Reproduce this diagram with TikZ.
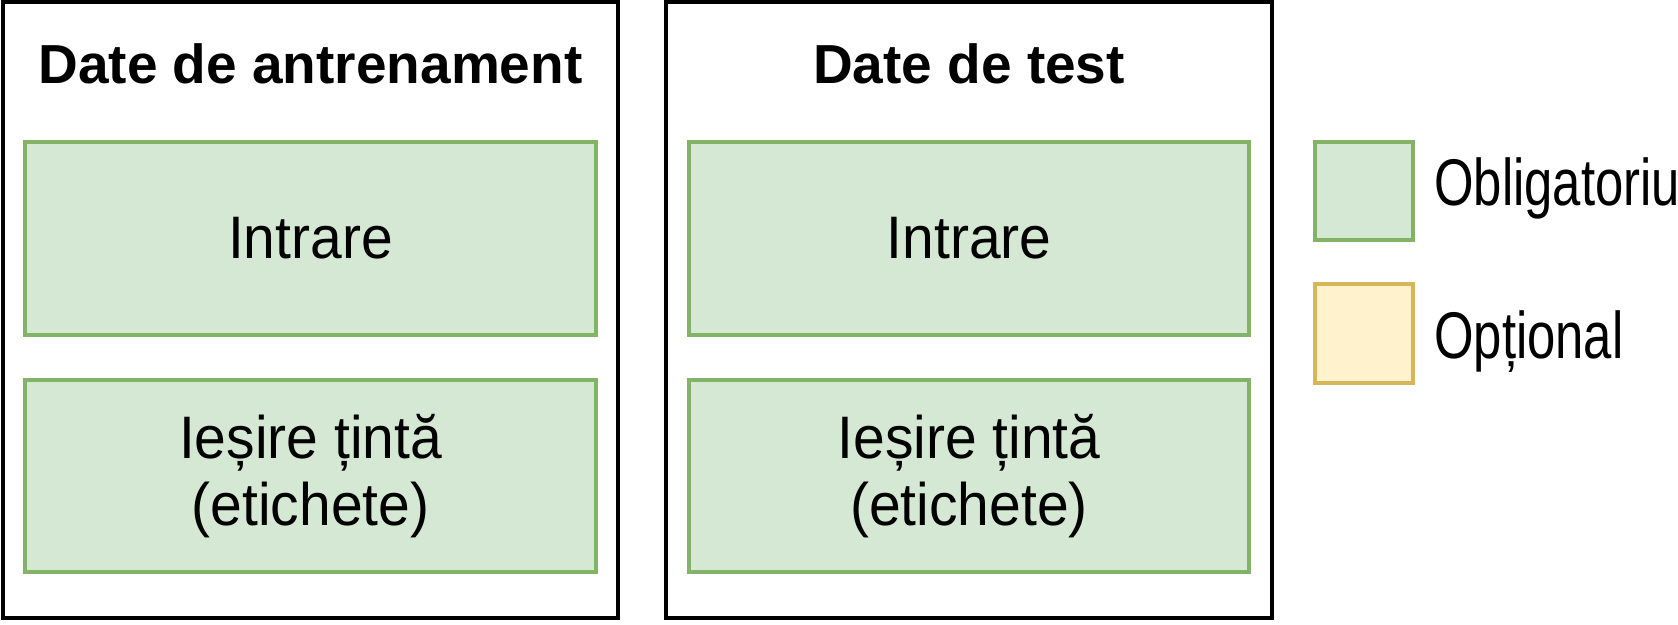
\documentclass[tikz,border=0pt]{standalone}
\usepackage{fontspec}
\setmainfont{Liberation Sans}
\newfontfamily\bodyfont[FakeStretch=0.95]{Liberation Sans}
\newfontfamily\legfont[FakeStretch=0.77]{Liberation Sans}
\definecolor{gfill}{HTML}{D5E8D4}
\definecolor{gdraw}{HTML}{82B366}
\definecolor{yfill}{HTML}{FFF2CC}
\definecolor{ydraw}{HTML}{D6B656}
\begin{document}
\begin{tikzpicture}[x=1pt,y=-1pt,
  outerbox/.style={draw=black, line width=4pt, rectangle, inner sep=0pt, outer sep=0pt},
  greenbox/.style={draw=gdraw, fill=gfill, line width=3.5pt, rectangle, inner sep=0pt, outer sep=0pt, align=center,
     font=\bodyfont\fontsize{60}{67}\selectfont},
  yellowbox/.style={draw=ydraw, fill=yfill, line width=3.5pt, rectangle, inner sep=0pt, outer sep=0pt},
  titletext/.style={anchor=base, inner sep=0pt, font=\bfseries\fontsize{55}{66}\selectfont},
  legtext/.style={anchor=base west, inner sep=0pt, font=\legfont\fontsize{66}{70}\selectfont}]
\useasboundingbox (0,0) rectangle (1678,624);
\fill[white] (0,0) rectangle (1678,624);
% outer frames
\node[outerbox, minimum width=615pt, minimum height=616.5pt] (train) at (310.5,309.75) {};
\node[outerbox, minimum width=606pt, minimum height=616.5pt] (test) at (969,309.75) {};
% titles
\node[titletext] (ttrain) at (310.5,83) {Date de antrenament};
\node[titletext] (ttest) at (969,83) {Date de test};
% green boxes
\node[greenbox, minimum width=571pt, minimum height=193pt] (in1) at (310.5,238.5) {Intrare};
\node[greenbox, minimum width=571pt, minimum height=192pt] (out1) at (310.5,476) {Ieșire țintă\\(etichete)};
\node[greenbox, minimum width=560pt, minimum height=193pt] (in2) at (969,238.5) {Intrare};
\node[greenbox, minimum width=560pt, minimum height=192pt] (out2) at (969,476) {Ieșire țintă\\(etichete)};
% legend
\node[greenbox, minimum width=98pt, minimum height=98pt] (lg) at (1364,191) {};
\node[yellowbox, minimum width=98pt, minimum height=99pt] (ly) at (1364,333.5) {};
\node[legtext] (lgt) at (1434,205) {Obligatoriu};
\node[legtext] (lyt) at (1434,358) {Opțional};
\end{tikzpicture}
\end{document}
